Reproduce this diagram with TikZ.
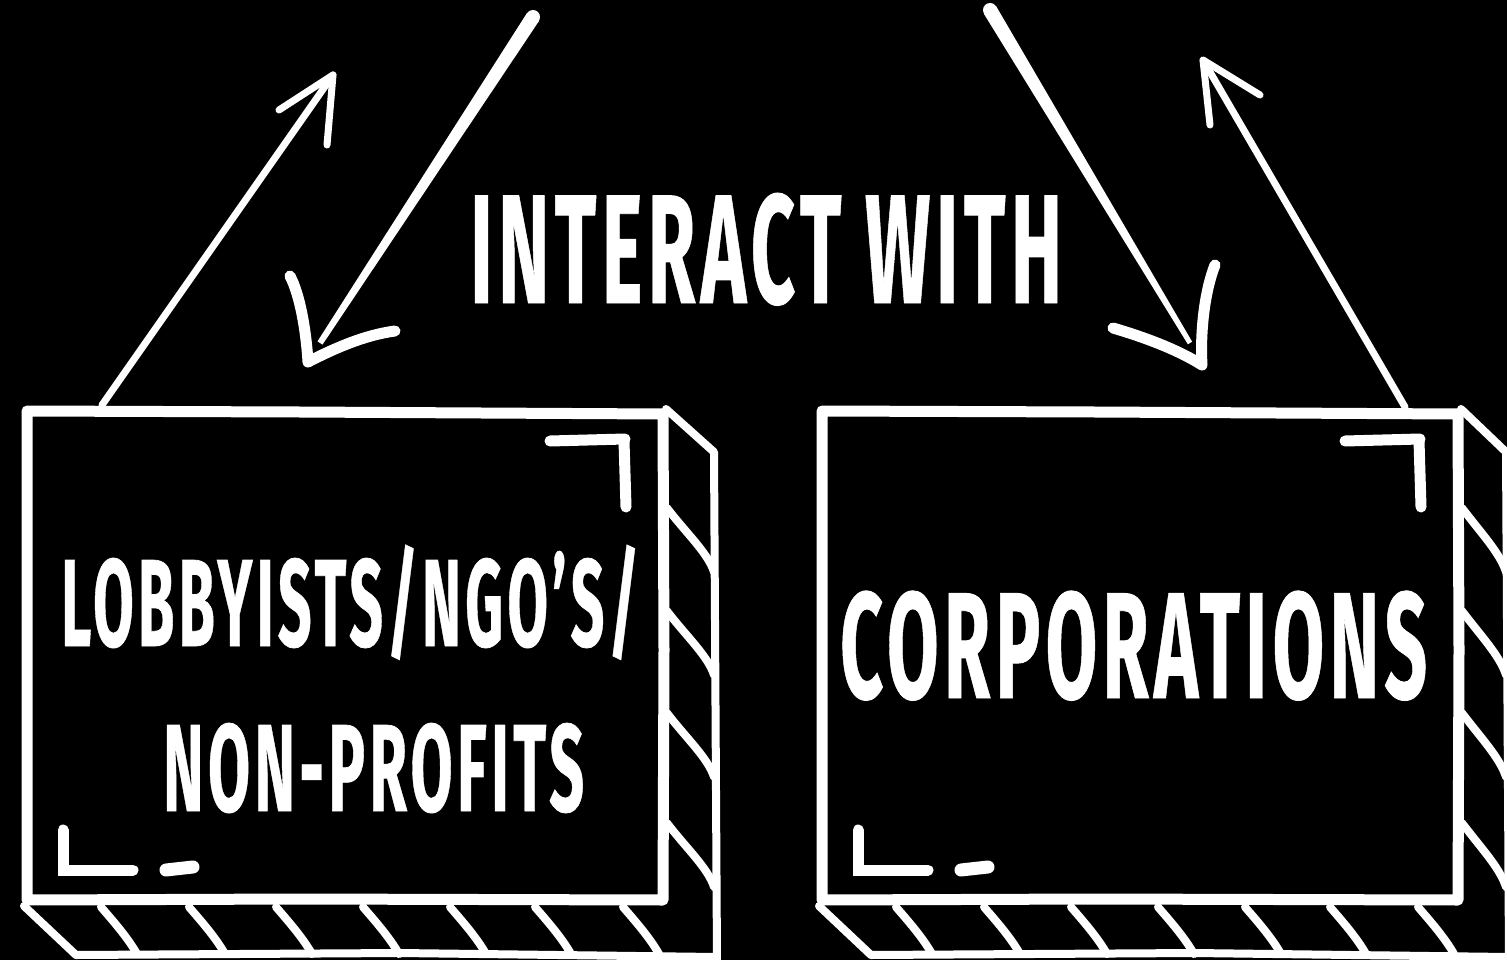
\documentclass[tikz,border=0pt]{standalone}
\usepackage{fontspec}
\newfontfamily\gothic{Fira Sans}[BoldFeatures={FakeBold=0.6}, LetterSpace=7]
\newcommand\captext[3]{\resizebox{#1pt}{\height}{\gothic\bfseries\fontsize{#2pt}{#2pt}\selectfont #3}}
\tikzset{
  frame/.style={white, line width=11pt, line join=round},
  edge/.style={white, line width=8pt, line cap=round, line join=round},
  hatch/.style={white, line width=8pt, line cap=round},
  thinarrow/.style={white, line width=7pt, line cap=round, line join=round},
  brushhead/.style={white, line width=11pt, line cap=round, line join=round},
  cornermark/.style={white, line width=11pt, line cap=round},
  txt/.style={text=white, inner sep=0pt, anchor=base west}
}
\newcommand\crate[1]{%
  % front face
  \draw[frame] (27,411) -- (300,412) -- (663,414) -- (664,650) -- (663,900) -- (300,899) -- (27,900) -- cycle;
  % right side face
  \draw[edge] (666,409) -- (#1,452) -- (#1+3,962);
  \foreach \yy in {508,611,713,823}
    \draw[hatch] (667,\yy) .. controls (686,\yy+25) and (#1-6,\yy+45) .. (#1,\yy+64);
  % bottom face
  \draw[edge] (24,906) -- (76,955);
  \foreach \xx in {101,189,276,363,450,535,623}
    \draw[hatch] (\xx,907) .. controls (\xx+13,922) and (\xx+27,938) .. (\xx+36,954);
  \draw[edge] (76,955) -- (400,953) -- (#1+2,957);
  % corner marks
  \draw[cornermark] (550,441) -- (625,439);
  \draw[cornermark] (624,441) -- (626,507);
  \draw[cornermark] (63,830) -- (63,870) -- (133,870);
  \draw[white, line width=13pt, line cap=round] (166,870) -- (193,867);
}
\begin{document}
\begin{tikzpicture}[x=1pt,y=-1pt]
\fill[black] (0,0) rectangle (1507,960);
\useasboundingbox (0,0) rectangle (1507,960);

% left crate
\crate{714}
% right crate
\begin{scope}[shift={(795,0)}]
\crate{711}
\end{scope}

% texts
\node[txt] (title) at (470,303) {\captext{592}{155}{INTERACT WITH}};
\node[txt] (lob1) at (61,646) {\captext{578}{124}{LOBBYISTS/NGO’S/}};
\node[txt] (lob2) at (163,811) {\captext{421}{124}{NON-PROFITS}};
\node[txt] (corp) at (840,698) {\captext{587}{151}{CORPORATIONS}};

% arrow coordinates
\coordinate (lupS) at (102,405);
\coordinate (lupT) at (333,75);
\coordinate (lupB1) at (279,110);
\coordinate (lupB2) at (327,145);
\coordinate (ldnS) at (533,17);
\coordinate (ldnE) at (320,343);
\coordinate (rdnS) at (990,10);
\coordinate (rdnE) at (1190,343);
\coordinate (rupS) at (1405,407);
\coordinate (rupT) at (1203,60);
\coordinate (rupB1) at (1260,95);
\coordinate (rupB2) at (1210,125);

% left up arrow (thin)
\draw[thinarrow] (lupS) -- (lupT);
\draw[thinarrow] (lupB1) -- (lupT) -- (lupB2);

% left down arrow (tapered brush)
\fill[white] (527,13) -- (539,21) -- (322.5,344.6) -- (317.5,341.4) -- cycle;
\fill[white] (ldnS) circle (7);
\draw[brushhead] (290,276) .. controls (300,295) and (306,330) .. (308,362)
   .. controls (335,348) and (365,335) .. (395,331);

% right down arrow (tapered brush)
\fill[white] (984,14) -- (996,6) -- (1192.1,341.7) -- (1187.9,344.3) -- cycle;
\fill[white] (rdnS) circle (7);
\draw[brushhead] (1113,328) .. controls (1140,336) and (1175,348) .. (1202,365)
   .. controls (1200,330) and (1205,290) .. (1215,265);

% right up arrow (thin)
\draw[thinarrow] (rupS) -- (rupT);
\draw[thinarrow] (rupB1) -- (rupT) -- (rupB2);
\end{tikzpicture}
\end{document}
